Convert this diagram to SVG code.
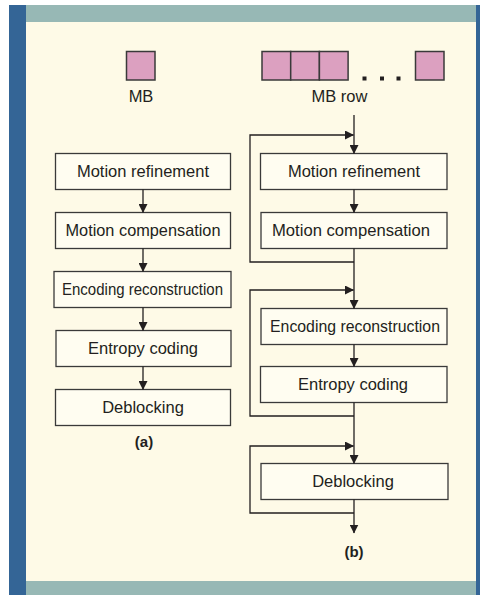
<svg xmlns="http://www.w3.org/2000/svg" width="480" height="595" viewBox="0 0 480 595">
<defs>
<marker id="ah" markerWidth="9" markerHeight="9" refX="8.5" refY="4.5" orient="auto" markerUnits="userSpaceOnUse">
<path d="M0,0 L9,4.5 L0,9 z" fill="#231f20"/>
</marker>
<style>
.box{fill:#fffdf1;stroke:#3a3a3a;stroke-width:1.3}
.mb{fill:#dca0c0;stroke:#3a3a3a;stroke-width:1.5}
.t{font-family:"Liberation Sans",Arial,sans-serif;font-size:16.5px;fill:#231f20;text-anchor:middle}
.lbl{font-family:"Liberation Sans",Arial,sans-serif;font-size:15px;font-weight:bold;fill:#231f20;text-anchor:middle}
.ln{fill:none;stroke:#231f20;stroke-width:1.3}
.dot{fill:#231f20}
</style>
</defs>
<rect x="9" y="5" width="467" height="590" fill="#fefae7"/>
<rect x="9" y="5" width="17" height="590" fill="#346596"/>
<rect x="476" y="5" width="4" height="590" fill="#346596"/>
<rect x="26" y="5" width="450" height="17" fill="#97b8b5"/>
<rect x="26" y="581" width="450" height="14" fill="#97b8b5"/>

<g id="mb">
<rect class="mb" x="126.5" y="51.5" width="28.5" height="28.5"/>
<text class="t" x="141" y="102">MB</text>
</g>
<g id="mbrow">
<rect class="mb" x="262" y="51.5" width="28.7" height="28.5"/>
<rect class="mb" x="290.7" y="51.5" width="28.7" height="28.5"/>
<rect class="mb" x="319.4" y="51.5" width="28.7" height="28.5"/>
<rect class="dot" x="362.5" y="76.5" width="4" height="4"/>
<rect class="dot" x="380" y="76.5" width="4" height="4"/>
<rect class="dot" x="396.5" y="76.5" width="4" height="4"/>
<rect class="mb" x="415.5" y="51.5" width="28.5" height="28.5"/>
<text class="t" x="339.5" y="102">MB row</text>
</g>

<g id="a-mr"><rect class="box" x="55.5" y="153.5" width="175" height="36"/><text class="t" x="143" y="177">Motion refinement</text></g>
<g id="a-mc"><rect class="box" x="55.5" y="212.5" width="175" height="36"/><text class="t" x="143" y="236" textLength="155" lengthAdjust="spacingAndGlyphs">Motion compensation</text></g>
<g id="a-er"><rect class="box" x="54" y="271.5" width="177" height="36"/><text class="t" x="142.5" y="295" textLength="161" lengthAdjust="spacingAndGlyphs">Encoding reconstruction</text></g>
<g id="a-ec"><rect class="box" x="56" y="330.5" width="175" height="36"/><text class="t" x="143" y="354">Entropy coding</text></g>
<g id="a-db"><rect class="box" x="55.5" y="389.5" width="175" height="36"/><text class="t" x="143" y="413">Deblocking</text></g>
<text class="lbl" x="144" y="447">(a)</text>

<g id="b-mr"><rect class="box" x="260.5" y="153.5" width="186.5" height="36"/><text class="t" x="354" y="177">Motion refinement</text></g>
<g id="b-mc"><rect class="box" x="261" y="212.5" width="186" height="36"/><text class="t" x="351" y="236" textLength="158" lengthAdjust="spacingAndGlyphs">Motion compensation</text></g>
<g id="b-er"><rect class="box" x="261" y="308.5" width="186" height="36"/><text class="t" x="355" y="332" textLength="170" lengthAdjust="spacingAndGlyphs">Encoding reconstruction</text></g>
<g id="b-ec"><rect class="box" x="260.5" y="366.5" width="186.5" height="36"/><text class="t" x="353" y="390">Entropy coding</text></g>
<g id="b-db"><rect class="box" x="261" y="463.5" width="187" height="36"/><text class="t" x="353" y="487">Deblocking</text></g>
<text class="lbl" x="354" y="557">(b)</text>

<g id="connectors">
<line class="ln" x1="143" y1="189.5" x2="143" y2="212.5" marker-end="url(#ah)"/>
<line class="ln" x1="143" y1="248.5" x2="143" y2="271.5" marker-end="url(#ah)"/>
<line class="ln" x1="143" y1="307.5" x2="143" y2="330.5" marker-end="url(#ah)"/>
<line class="ln" x1="143" y1="366.5" x2="143" y2="389.5" marker-end="url(#ah)"/>

<line class="ln" x1="354" y1="115" x2="354" y2="153.5" marker-end="url(#ah)"/>
<path class="ln" d="M354,262 H250 V135 H353.5" marker-end="url(#ah)"/>
<line class="ln" x1="354" y1="189.5" x2="354" y2="212.5" marker-end="url(#ah)"/>
<line class="ln" x1="354" y1="248.5" x2="354" y2="308.5" marker-end="url(#ah)"/>
<path class="ln" d="M354,416 H250 V290 H353.5" marker-end="url(#ah)"/>
<line class="ln" x1="354" y1="344.5" x2="354" y2="366.5" marker-end="url(#ah)"/>
<line class="ln" x1="354" y1="402.5" x2="354" y2="463.5" marker-end="url(#ah)"/>
<path class="ln" d="M354,513 H250 V446 H353.5" marker-end="url(#ah)"/>
<line class="ln" x1="354" y1="499.5" x2="354" y2="533" marker-end="url(#ah)"/>
</g>
</svg>
